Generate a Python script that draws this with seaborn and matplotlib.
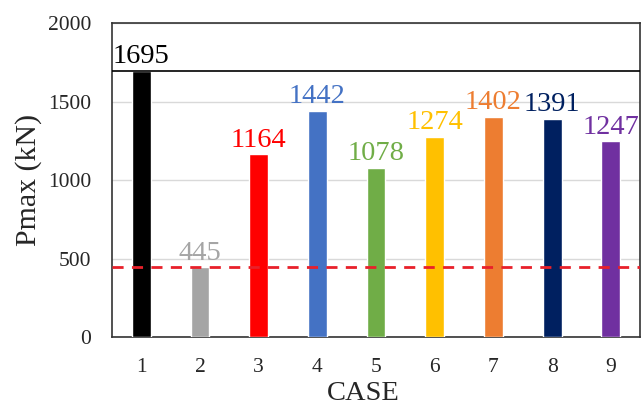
import matplotlib
matplotlib.use("Agg")
import matplotlib.pyplot as plt
import seaborn as sns
import pandas as pd

cases = ["1", "2", "3", "4", "5", "6", "7", "8", "9"]
pmax = [1695, 445, 1164, 1442, 1078, 1274, 1402, 1391, 1247]
colors = ["#000000", "#A5A5A5", "#FF0000", "#4472C4", "#70AD47",
          "#FFC000", "#ED7D31", "#002060", "#7030A0"]
ref_line = 445
yticks = [0, 500, 1000, 1500, 2000]

sns.set_style("white")
plt.rcParams['font.family'] = ['Liberation Serif', 'DejaVu Serif']

df = pd.DataFrame({"CASE": cases, "Pmax": pmax})
fig, ax = plt.subplots(figsize=(6.44, 4.12), dpi=100)
fig.subplots_adjust(left=0.174, right=0.994, top=0.944, bottom=0.182)

sns.barplot(data=df, x="CASE", y="Pmax", hue="CASE", palette=colors,
            legend=False, width=0.32, ax=ax, saturation=1, zorder=3)

for i, (v, c) in enumerate(zip(pmax, colors)):
    ax.text(i, v + 10, str(v), color=c, ha="center", va="bottom", fontsize=20.5)

ax.axhline(pmax[0], color="black", lw=1.2, zorder=4)
ax.axhline(ref_line, color="#E8202A", lw=2, ls=(0, (4, 3)), zorder=5)

ax.set_ylim(0, 2000)
ax.set_xlim(-0.5, 8.5)
ax.set_yticks(yticks)
ax.yaxis.grid(True, color="#D9D9D9", lw=1, zorder=0)
ax.set_axisbelow(True)
ax.tick_params(axis="y", labelsize=15.5, direction="in", length=5, width=1,
               color="#444444", pad=15)
ax.set_xticks(range(len(cases)))
ax.set_xticklabels(cases)
ax.tick_params(axis="x", labelsize=15.5, length=0, pad=15)
ax.set_xticks([i + 0.5 for i in range(len(cases) - 1)], minor=True)
ax.tick_params(axis="x", which="minor", direction="in", length=6, width=1, color="#444444")
for s in ax.spines.values():
    s.set_color("#333333")
    s.set_linewidth(1.2)
ax.set_xlabel("CASE", fontsize=20.5, labelpad=3)
ax.xaxis.label.set_x(0.475)
ax.set_ylabel("Pmax (kN)", fontsize=21.5, labelpad=4)

fig.savefig("out.png", dpi=100)
